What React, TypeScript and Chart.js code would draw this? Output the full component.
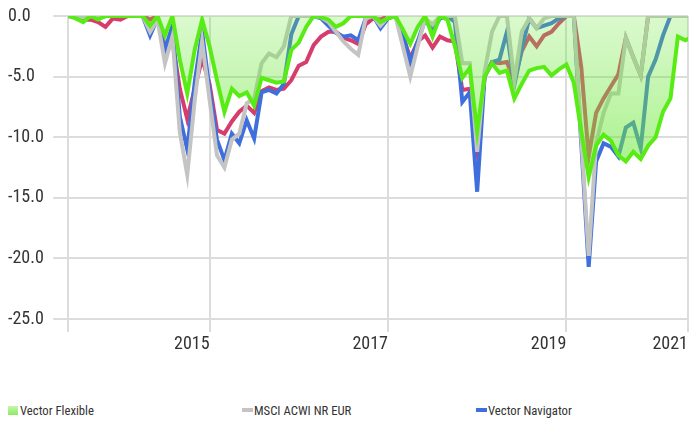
import React, { useEffect, useRef } from 'react';
import { Chart, registerables } from 'chart.js';

Chart.register(...registerables);

const FONT = "'Roboto Condensed', 'Liberation Sans Narrow', 'DejaVu Sans Condensed', sans-serif";

// Monthly observations, June 2014 .. June 2021
const months: string[] = Array.from({ length: 85 }, (_, i) => {
  const m = 5 + i;
  return `${2014 + Math.floor(m / 12)}-${String((m % 12) + 1).padStart(2, '0')}`;
});

// Drawdown (%) series
const vectorFlexible = [
  0, -0.2, -0.5, 0, -0.3, 0, 0, 0, 0, 0,
  0, -0.8, 0, -1.6, 0, -3.6, -6.4, -2.8, -0.3, -2.5,
  -5.3, -7.9, -6.0, -6.6, -6.3, -7.4, -5.1, -5.3, -5.5, -5.4,
  -2.8, -2.2, -0.9, 0, -0.1, -0.3, -0.9, -0.6, 0, 0,
  0, 0, -0.5, -0.2, 0, -1.1, -2.3, -0.9, 0, -1.7,
  0, -0.3, -2.5, -5.1, -4.3, -9.5, -5.0, -3.9, -4.7, -4.5,
  -6.8, -5.6, -4.5, -4.3, -4.2, -4.9, -4.4, -4.0, -5.5, -9.5,
  -13.3, -10.7, -9.8, -10.3, -11.5, -12.0, -11.2, -11.8, -10.7, -10.0,
  -7.9, -6.8, -1.7, -2.0, -1.7,
];

const msciAcwiNrEur = [
  0, 0, -0.1, 0, -0.1, 0, 0, 0, 0, 0,
  0, -1.3, -0.3, -3.9, -1.7, -9.6, -13.1, -7.0, -2.1, -6.9,
  -11.5, -12.5, -10.2, -9.7, -7.2, -6.8, -3.9, -3.1, -3.4, -2.5,
  0, 0, 0, 0, -0.1, -0.5, -1.3, -2.1, -2.7, -3.2,
  -0.2, 0, -0.8, -0.1, 0, -2.5, -5.0, -2.5, -0.2, -0.7,
  0, 0, 0, -3.9, -3.9, -11.2, -4.6, -1.3, 0, 0,
  -5.4, -1.3, -0.2, -1.0, -0.2, 0, 0, 0, 0, -10.0,
  -19.8, -10.5, -8.0, -6.4, -6.4, -1.8, -3.4, -4.9, 0, 0,
  0, 0, 0, 0, 0,
];

const vectorNavigator = [
  0, -0.1, -0.2, 0, -0.2, 0, 0, 0, 0, 0,
  0, -1.6, -0.2, -2.8, -0.8, -8.3, -11.0, -5.5, -1.3, -6.1,
  -10.2, -11.9, -9.7, -10.5, -8.6, -10.1, -6.3, -6.1, -6.4, -5.6,
  -1.5, 0, 0, 0, -0.2, -0.8, -1.4, -1.7, -1.6, -2.0,
  -0.2, 0, -1.0, -0.2, 0, -1.5, -3.8, -2.1, -0.3, -1.2,
  -0.2, 0, -0.5, -7.1, -6.3, -14.5, -5.0, -3.8, -3.6, -1.3,
  -5.7, -2.7, -0.2, -1.0, -0.8, -0.6, -0.2, 0, 0, -10.5,
  -20.7, -12.0, -10.5, -10.8, -11.6, -9.2, -8.8, -10.9, -5.0, -3.6,
  -1.6, 0, 0, 0, 0,
];

// Fourth (crimson) series, shown without a legend entry
const crimsonSeries = [
  0, 0, -0.3, -0.3, -0.5, -0.9, -0.2, -0.3, 0, 0,
  0, -0.3, 0, -2.5, -2.0, -6.0, -8.5, -6.0, -3.5, -5.6,
  -9.4, -9.7, -8.7, -7.9, -7.4, -8.0, -6.2, -5.9, -6.1, -6.0,
  -5.3, -4.1, -3.8, -2.4, -1.7, -1.3, -1.3, -1.8, -2.0, -2.3,
  -0.7, -0.2, -0.3, 0, 0, -1.6, -3.5, -2.1, -1.6, -2.6,
  -1.7, -2.0, -2.1, -6.1, -6.0, -11.0, -5.0, -3.8, -3.9, -3.8,
  -5.4, -2.9, -1.7, -2.5, -1.6, -1.3, -0.6, 0, 0, -4.2,
  -11.6, -8.0, -6.8, -5.8, -4.8, -1.8, -3.4, -4.9, 0, 0,
  0, 0, 0, 0, 0,
];

const xTickPositions = [0, 19, 43, 67, 83.36];
const xTickLabels = ['', '2015', '2017', '2019', '2021'];
const yMin = -25;
const yMax = 0;
const yStep = 5;

const legendItems = [
  { label: 'Vector Flexible', kind: 'box' },
  { label: 'MSCI ACWI NR EUR', kind: 'line', color: '#c4c4c4' },
  { label: 'Vector Navigator', kind: 'line', color: '#3f6fdc' },
];

const toPoints = (arr: number[]) => arr.map((v, i) => ({ x: i, y: v }));

export default function App() {
  const ref = useRef<HTMLCanvasElement | null>(null);

  useEffect(() => {
    if (!ref.current) return;
    const chart = new Chart(ref.current, {
      type: 'line',
      data: {
        datasets: [
          {
            label: 'Vector Flexible',
            data: toPoints(vectorFlexible),
            borderColor: '#58ec14',
            borderWidth: 4,
            pointRadius: 0,
            tension: 0,
            fill: 'origin',
            order: 0,
            backgroundColor: (ctx: any) => {
              const { chart } = ctx;
              const area = chart.chartArea;
              if (!area) return 'rgba(110,232,60,0.4)';
              const yScale = chart.scales.y;
              const g = chart.ctx.createLinearGradient(0, area.top, 0, yScale.getPixelForValue(-14));
              g.addColorStop(0, 'rgba(110,232,60,0.25)');
              g.addColorStop(1, 'rgba(110,232,60,0.62)');
              return g;
            },
          },
          {
            label: 'MSCI ACWI NR EUR',
            data: toPoints(msciAcwiNrEur),
            borderColor: '#c4c4c4',
            borderWidth: 4,
            pointRadius: 0,
            tension: 0,
            fill: false,
            order: 1,
          },
          {
            label: 'Vector Navigator',
            data: toPoints(vectorNavigator),
            borderColor: '#3f6fdc',
            borderWidth: 4,
            pointRadius: 0,
            tension: 0,
            fill: false,
            order: 2,
          },
          {
            label: 'Other',
            data: toPoints(crimsonSeries),
            borderColor: '#d63c6c',
            borderWidth: 4,
            pointRadius: 0,
            tension: 0,
            fill: false,
            order: 3,
          },
        ],
      },
      options: {
        animation: false,
        responsive: false,
        devicePixelRatio: 1,
        layout: { padding: { left: 8, top: 16, right: 0, bottom: 0 } },
        plugins: {
          legend: { display: false },
          tooltip: { enabled: false },
        },
        scales: {
          x: {
            type: 'linear',
            min: 0,
            max: 83.36,
            afterBuildTicks: (s: any) => {
              s.ticks = xTickPositions.map((v) => ({ value: v }));
            },
            afterFit: (s: any) => {
              s.height = 41;
            },
            ticks: {
              autoSkip: false,
              maxRotation: 0,
              align: 'end',
              padding: 2,
              color: '#333',
              font: { family: FONT, size: 18 },
              callback: (_v: any, i: number) => xTickLabels[i],
            },
            grid: { color: '#dcdcdc', lineWidth: 2, tickLength: 13 },
            border: { display: false },
          },
          y: {
            min: yMin,
            max: yMax,
            afterFit: (s: any) => {
              s.width = 60.3;
            },
            ticks: {
              stepSize: yStep,
              crossAlign: 'far',
              padding: 0,
              color: '#333',
              font: { family: FONT, size: 18 },
              callback: (v: any) => Number(v).toFixed(1),
            },
            grid: { color: '#dcdcdc', lineWidth: 2, tickLength: 15 },
            border: { display: false },
          },
        },
      },
    } as any);
    return () => chart.destroy();
  }, []);

  const legendX = [8, 242, 476];

  return (
    <div style={{ position: 'absolute', left: 0, top: 0, width: 690, height: 423, overflow: 'hidden', background: '#fff' }}>
      <canvas ref={ref} width={690} height={360} style={{ position: 'absolute', left: 0, top: 0, width: 690, height: 360 }} />
      {legendItems.map((it, i) => (
        <div
          key={it.label}
          style={{
            position: 'absolute',
            left: legendX[i],
            top: 402,
            height: 16,
            display: 'flex',
            alignItems: 'center',
            fontFamily: FONT,
            fontSize: 12.7,
            color: '#333',
            whiteSpace: 'nowrap',
          }}
        >
          {it.kind === 'box' ? (
            <span style={{ display: 'inline-block', width: 10, height: 9, background: 'linear-gradient(#c4f7ad, #8ee862)', marginRight: 2 }} />
          ) : (
            <span style={{ display: 'inline-block', width: 11, height: 4, background: it.color, marginRight: 1 }} />
          )}
          <span>{it.label}</span>
        </div>
      ))}
    </div>
  );
}
